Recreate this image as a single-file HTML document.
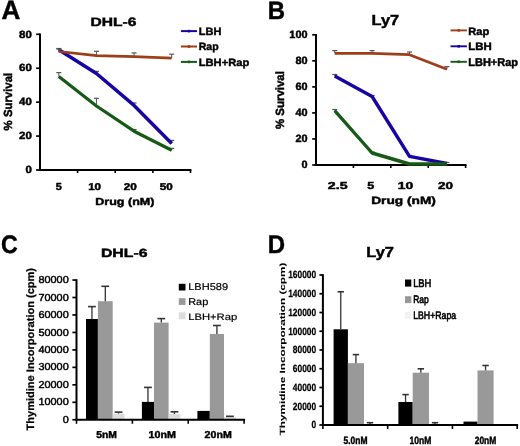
<!DOCTYPE html>
<html><head><meta charset="utf-8"><style>
html,body{margin:0;padding:0;background:#fff;}
svg{display:block;font-family:"Liberation Sans",sans-serif;text-rendering:geometricPrecision;will-change:transform;}
text{stroke:#000;stroke-width:0.45px;}
</style></head><body>
<svg width="520" height="446" viewBox="0 0 520 446" shape-rendering="geometricPrecision">
<defs><filter id="soft" x="0" y="0" width="100%" height="100%" color-interpolation-filters="sRGB"><feGaussianBlur stdDeviation="0.4"/></filter></defs>
<rect x="0" y="0" width="520" height="446" fill="#fff"/>
<g filter="url(#soft)">
<rect x="0" y="0" width="520" height="446" fill="#fff"/>
<text x="1.55" y="18.55" font-size="26.67" font-weight="bold" textLength="18.86" lengthAdjust="spacingAndGlyphs" fill="#000">A</text>
<text x="90.45" y="25.88" font-size="12.16" font-weight="bold" textLength="45.93" lengthAdjust="spacingAndGlyphs" fill="#000">DHL-6</text>
<line x1="40.00" y1="33.50" x2="40.00" y2="171.00" stroke="#000" stroke-width="2"/>
<line x1="39.00" y1="170.00" x2="191.40" y2="170.00" stroke="#000" stroke-width="2"/>
<line x1="36.10" y1="34.30" x2="40.00" y2="34.30" stroke="#000" stroke-width="1.7"/>
<text x="19.09" y="37.50" font-size="10.46" font-weight="bold" textLength="12.80" lengthAdjust="spacingAndGlyphs" fill="#000">80</text>
<line x1="36.10" y1="68.23" x2="40.00" y2="68.23" stroke="#000" stroke-width="1.7"/>
<text x="19.09" y="71.42" font-size="10.46" font-weight="bold" textLength="12.80" lengthAdjust="spacingAndGlyphs" fill="#000">60</text>
<line x1="36.10" y1="102.15" x2="40.00" y2="102.15" stroke="#000" stroke-width="1.7"/>
<text x="19.09" y="105.35" font-size="10.46" font-weight="bold" textLength="12.80" lengthAdjust="spacingAndGlyphs" fill="#000">40</text>
<line x1="36.10" y1="136.07" x2="40.00" y2="136.07" stroke="#000" stroke-width="1.7"/>
<text x="19.09" y="139.27" font-size="10.46" font-weight="bold" textLength="12.80" lengthAdjust="spacingAndGlyphs" fill="#000">20</text>
<line x1="36.10" y1="170.00" x2="40.00" y2="170.00" stroke="#000" stroke-width="1.7"/>
<text x="25.47" y="173.20" font-size="10.46" font-weight="bold" textLength="6.40" lengthAdjust="spacingAndGlyphs" fill="#000">0</text>
<line x1="77.62" y1="170.00" x2="77.62" y2="173.00" stroke="#000" stroke-width="1.6"/>
<line x1="115.25" y1="170.00" x2="115.25" y2="173.00" stroke="#000" stroke-width="1.6"/>
<line x1="152.88" y1="170.00" x2="152.88" y2="173.00" stroke="#000" stroke-width="1.6"/>
<line x1="190.50" y1="170.00" x2="190.50" y2="173.00" stroke="#000" stroke-width="1.6"/>
<text x="55.85" y="189.70" font-size="10.04" font-weight="bold" textLength="6.07" lengthAdjust="spacingAndGlyphs" fill="#000">5</text>
<text x="88.17" y="189.70" font-size="9.89" font-weight="bold" textLength="12.92" lengthAdjust="spacingAndGlyphs" fill="#000">10</text>
<text x="123.79" y="189.70" font-size="9.89" font-weight="bold" textLength="13.11" lengthAdjust="spacingAndGlyphs" fill="#000">20</text>
<text x="159.82" y="189.70" font-size="9.89" font-weight="bold" textLength="12.97" lengthAdjust="spacingAndGlyphs" fill="#000">50</text>
<text x="95.25" y="204.90" font-size="10.17" font-weight="bold" textLength="59.18" lengthAdjust="spacingAndGlyphs" fill="#000">Drug (nM)</text>
<text transform="translate(11.50,130.38) rotate(-90)" x="0" y="0" font-size="11.77" font-weight="bold" textLength="57.49" lengthAdjust="spacingAndGlyphs" fill="#000">% Survival</text>
<line x1="58.81" y1="49.80" x2="58.81" y2="48.50" stroke="#555" stroke-width="1"/>
<line x1="56.31" y1="48.50" x2="61.31" y2="48.50" stroke="#555" stroke-width="1.2"/>
<line x1="96.44" y1="73.50" x2="96.44" y2="71.40" stroke="#555" stroke-width="1"/>
<line x1="93.94" y1="71.40" x2="98.94" y2="71.40" stroke="#555" stroke-width="1.2"/>
<line x1="134.06" y1="105.40" x2="134.06" y2="103.00" stroke="#555" stroke-width="1"/>
<line x1="131.56" y1="103.00" x2="136.56" y2="103.00" stroke="#555" stroke-width="1.2"/>
<line x1="171.69" y1="143.40" x2="171.69" y2="140.40" stroke="#555" stroke-width="1"/>
<line x1="169.19" y1="140.40" x2="174.19" y2="140.40" stroke="#555" stroke-width="1.2"/>
<polyline points="58.81,49.80 96.44,73.50 134.06,105.40 171.69,143.40" fill="none" stroke="#1604a4" stroke-width="3.5" stroke-linejoin="round" stroke-linecap="butt"/>
<line x1="58.81" y1="51.50" x2="58.81" y2="49.00" stroke="#555" stroke-width="1"/>
<line x1="56.31" y1="49.00" x2="61.31" y2="49.00" stroke="#555" stroke-width="1.2"/>
<line x1="96.44" y1="55.60" x2="96.44" y2="51.30" stroke="#555" stroke-width="1"/>
<line x1="93.94" y1="51.30" x2="98.94" y2="51.30" stroke="#555" stroke-width="1.2"/>
<line x1="134.06" y1="56.60" x2="134.06" y2="52.90" stroke="#555" stroke-width="1"/>
<line x1="131.56" y1="52.90" x2="136.56" y2="52.90" stroke="#555" stroke-width="1.2"/>
<line x1="171.69" y1="58.20" x2="171.69" y2="54.20" stroke="#555" stroke-width="1"/>
<line x1="169.19" y1="54.20" x2="174.19" y2="54.20" stroke="#555" stroke-width="1.2"/>
<polyline points="58.81,51.50 96.44,55.60 134.06,56.60 171.69,58.20" fill="none" stroke="#9e3e17" stroke-width="2.7" stroke-linejoin="round" stroke-linecap="butt"/>
<line x1="58.81" y1="76.60" x2="58.81" y2="72.60" stroke="#555" stroke-width="1"/>
<line x1="56.31" y1="72.60" x2="61.31" y2="72.60" stroke="#555" stroke-width="1.2"/>
<line x1="96.44" y1="106.00" x2="96.44" y2="98.30" stroke="#555" stroke-width="1"/>
<line x1="93.94" y1="98.30" x2="98.94" y2="98.30" stroke="#555" stroke-width="1.2"/>
<line x1="134.06" y1="131.20" x2="134.06" y2="129.50" stroke="#555" stroke-width="1"/>
<line x1="131.56" y1="129.50" x2="136.56" y2="129.50" stroke="#555" stroke-width="1.2"/>
<line x1="171.69" y1="150.30" x2="171.69" y2="148.40" stroke="#555" stroke-width="1"/>
<line x1="169.19" y1="148.40" x2="174.19" y2="148.40" stroke="#555" stroke-width="1.2"/>
<polyline points="58.81,76.60 96.44,106.00 134.06,131.20 171.69,150.30" fill="none" stroke="#175a17" stroke-width="3.2" stroke-linejoin="round" stroke-linecap="butt"/>
<line x1="180.90" y1="31.10" x2="197.00" y2="31.10" stroke="#1604a4" stroke-width="2.0"/>
<rect x="187.80" y="29.80" width="2.40" height="2.60" fill="#1604a4"/>
<line x1="180.90" y1="46.50" x2="197.00" y2="46.50" stroke="#9e3e17" stroke-width="2.0"/>
<rect x="187.80" y="45.20" width="2.40" height="2.60" fill="#9e3e17"/>
<line x1="180.90" y1="61.90" x2="197.00" y2="61.90" stroke="#175a17" stroke-width="2.0"/>
<rect x="187.80" y="60.60" width="2.40" height="2.60" fill="#175a17"/>
<text x="198.76" y="34.80" font-size="10.61" font-weight="bold" textLength="22.59" lengthAdjust="spacingAndGlyphs" fill="#000">LBH</text>
<text x="198.79" y="50.20" font-size="10.47" font-weight="bold" textLength="19.85" lengthAdjust="spacingAndGlyphs" fill="#000">Rap</text>
<text x="198.75" y="65.50" font-size="10.47" font-weight="bold" textLength="50.51" lengthAdjust="spacingAndGlyphs" fill="#000">LBH+Rap</text>
<text x="267.78" y="18.70" font-size="25.00" font-weight="bold" textLength="17.29" lengthAdjust="spacingAndGlyphs" fill="#000">B</text>
<text x="371.59" y="25.40" font-size="14.53" font-weight="bold" textLength="27.62" lengthAdjust="spacingAndGlyphs" fill="#000">Ly7</text>
<line x1="316.00" y1="34.00" x2="316.00" y2="166.00" stroke="#000" stroke-width="2"/>
<line x1="315.00" y1="165.00" x2="466.50" y2="165.00" stroke="#000" stroke-width="2"/>
<line x1="312.20" y1="34.80" x2="316.00" y2="34.80" stroke="#000" stroke-width="1.7"/>
<text x="289.33" y="37.99" font-size="10.60" font-weight="bold" textLength="18.22" lengthAdjust="spacingAndGlyphs" fill="#000">100</text>
<line x1="312.20" y1="60.84" x2="316.00" y2="60.84" stroke="#000" stroke-width="1.7"/>
<text x="295.42" y="64.03" font-size="10.60" font-weight="bold" textLength="12.15" lengthAdjust="spacingAndGlyphs" fill="#000">80</text>
<line x1="312.20" y1="86.88" x2="316.00" y2="86.88" stroke="#000" stroke-width="1.7"/>
<text x="295.42" y="90.07" font-size="10.60" font-weight="bold" textLength="12.15" lengthAdjust="spacingAndGlyphs" fill="#000">60</text>
<line x1="312.20" y1="112.92" x2="316.00" y2="112.92" stroke="#000" stroke-width="1.7"/>
<text x="295.42" y="116.11" font-size="10.60" font-weight="bold" textLength="12.15" lengthAdjust="spacingAndGlyphs" fill="#000">40</text>
<line x1="312.20" y1="138.96" x2="316.00" y2="138.96" stroke="#000" stroke-width="1.7"/>
<text x="295.42" y="142.15" font-size="10.60" font-weight="bold" textLength="12.15" lengthAdjust="spacingAndGlyphs" fill="#000">20</text>
<line x1="312.20" y1="165.00" x2="316.00" y2="165.00" stroke="#000" stroke-width="1.7"/>
<text x="301.48" y="168.19" font-size="10.60" font-weight="bold" textLength="6.07" lengthAdjust="spacingAndGlyphs" fill="#000">0</text>
<line x1="353.40" y1="165.00" x2="353.40" y2="168.00" stroke="#000" stroke-width="1.6"/>
<line x1="390.80" y1="165.00" x2="390.80" y2="168.00" stroke="#000" stroke-width="1.6"/>
<line x1="428.20" y1="165.00" x2="428.20" y2="168.00" stroke="#000" stroke-width="1.6"/>
<line x1="465.60" y1="165.00" x2="465.60" y2="168.00" stroke="#000" stroke-width="1.6"/>
<text x="327.80" y="189.20" font-size="10.04" font-weight="bold" textLength="19.79" lengthAdjust="spacingAndGlyphs" fill="#000">2.5</text>
<text x="367.39" y="189.20" font-size="10.18" font-weight="bold" textLength="6.97" lengthAdjust="spacingAndGlyphs" fill="#000">5</text>
<text x="397.83" y="189.20" font-size="10.04" font-weight="bold" textLength="15.46" lengthAdjust="spacingAndGlyphs" fill="#000">10</text>
<text x="438.03" y="189.20" font-size="10.04" font-weight="bold" textLength="15.05" lengthAdjust="spacingAndGlyphs" fill="#000">20</text>
<text x="371.17" y="203.80" font-size="10.47" font-weight="bold" textLength="64.72" lengthAdjust="spacingAndGlyphs" fill="#000">Drug (nM)</text>
<text transform="translate(283.80,129.09) rotate(-90)" x="0" y="0" font-size="11.92" font-weight="bold" textLength="58.00" lengthAdjust="spacingAndGlyphs" fill="#000">% Survival</text>
<line x1="334.70" y1="76.10" x2="334.70" y2="74.50" stroke="#555" stroke-width="1"/>
<line x1="332.20" y1="74.50" x2="337.20" y2="74.50" stroke="#555" stroke-width="1.2"/>
<line x1="372.10" y1="96.50" x2="372.10" y2="95.50" stroke="#555" stroke-width="1"/>
<line x1="369.60" y1="95.50" x2="374.60" y2="95.50" stroke="#555" stroke-width="1.2"/>
<line x1="409.50" y1="156.30" x2="409.50" y2="155.50" stroke="#555" stroke-width="1"/>
<line x1="407.00" y1="155.50" x2="412.00" y2="155.50" stroke="#555" stroke-width="1.2"/>
<line x1="446.90" y1="163.50" x2="446.90" y2="162.50" stroke="#555" stroke-width="1"/>
<line x1="444.40" y1="162.50" x2="449.40" y2="162.50" stroke="#555" stroke-width="1.2"/>
<polyline points="334.70,76.10 372.10,96.50 409.50,156.30 446.90,163.50" fill="none" stroke="#1604a4" stroke-width="3.4" stroke-linejoin="round" stroke-linecap="butt"/>
<line x1="334.70" y1="53.30" x2="334.70" y2="50.60" stroke="#555" stroke-width="1"/>
<line x1="332.20" y1="50.60" x2="337.20" y2="50.60" stroke="#555" stroke-width="1.2"/>
<line x1="372.10" y1="53.30" x2="372.10" y2="50.60" stroke="#555" stroke-width="1"/>
<line x1="369.60" y1="50.60" x2="374.60" y2="50.60" stroke="#555" stroke-width="1.2"/>
<line x1="409.50" y1="54.70" x2="409.50" y2="52.00" stroke="#555" stroke-width="1"/>
<line x1="407.00" y1="52.00" x2="412.00" y2="52.00" stroke="#555" stroke-width="1.2"/>
<line x1="446.90" y1="69.30" x2="446.90" y2="66.60" stroke="#555" stroke-width="1"/>
<line x1="444.40" y1="66.60" x2="449.40" y2="66.60" stroke="#555" stroke-width="1.2"/>
<polyline points="334.70,53.30 372.10,53.30 409.50,54.70 446.90,69.30" fill="none" stroke="#9e3e17" stroke-width="2.7" stroke-linejoin="round" stroke-linecap="butt"/>
<line x1="334.70" y1="110.60" x2="334.70" y2="109.50" stroke="#555" stroke-width="1"/>
<line x1="332.20" y1="109.50" x2="337.20" y2="109.50" stroke="#555" stroke-width="1.2"/>
<line x1="372.10" y1="153.00" x2="372.10" y2="152.00" stroke="#555" stroke-width="1"/>
<line x1="369.60" y1="152.00" x2="374.60" y2="152.00" stroke="#555" stroke-width="1.2"/>
<polyline points="334.70,110.60 372.10,153.00 409.50,164.00 446.90,164.00" fill="none" stroke="#175a17" stroke-width="3.4" stroke-linejoin="round" stroke-linecap="butt"/>
<line x1="450.50" y1="30.40" x2="466.90" y2="30.40" stroke="#9e3e17" stroke-width="1.9"/>
<rect x="457.50" y="29.10" width="2.40" height="2.60" fill="#9e3e17"/>
<line x1="450.50" y1="46.30" x2="466.90" y2="46.30" stroke="#1604a4" stroke-width="1.9"/>
<rect x="457.50" y="45.00" width="2.40" height="2.60" fill="#1604a4"/>
<line x1="450.50" y1="61.80" x2="466.90" y2="61.80" stroke="#175a17" stroke-width="1.9"/>
<rect x="457.50" y="60.50" width="2.40" height="2.60" fill="#175a17"/>
<text x="468.25" y="34.70" font-size="10.61" font-weight="bold" textLength="21.01" lengthAdjust="spacingAndGlyphs" fill="#000">Rap</text>
<text x="468.23" y="50.40" font-size="10.76" font-weight="bold" textLength="23.55" lengthAdjust="spacingAndGlyphs" fill="#000">LBH</text>
<text x="468.26" y="66.20" font-size="11.34" font-weight="bold" textLength="49.79" lengthAdjust="spacingAndGlyphs" fill="#000">LBH+Rap</text>
<text x="0.97" y="253.15" font-size="25.30" font-weight="bold" textLength="16.76" lengthAdjust="spacingAndGlyphs" fill="#000">C</text>
<text x="100.93" y="257.18" font-size="11.87" font-weight="bold" textLength="46.65" lengthAdjust="spacingAndGlyphs" fill="#000">DHL-6</text>
<line x1="72.40" y1="419.75" x2="76.50" y2="419.75" stroke="#000" stroke-width="1.7"/>
<text x="62.66" y="422.85" font-size="10.18" font-weight="normal" textLength="6.06" lengthAdjust="spacingAndGlyphs" fill="#000" style="stroke-width:0.45px">0</text>
<line x1="72.40" y1="402.29" x2="76.50" y2="402.29" stroke="#000" stroke-width="1.7"/>
<text x="38.44" y="405.39" font-size="10.18" font-weight="normal" textLength="30.28" lengthAdjust="spacingAndGlyphs" fill="#000" style="stroke-width:0.45px">10000</text>
<line x1="72.40" y1="384.82" x2="76.50" y2="384.82" stroke="#000" stroke-width="1.7"/>
<text x="38.44" y="387.92" font-size="10.18" font-weight="normal" textLength="30.28" lengthAdjust="spacingAndGlyphs" fill="#000" style="stroke-width:0.45px">20000</text>
<line x1="72.40" y1="367.36" x2="76.50" y2="367.36" stroke="#000" stroke-width="1.7"/>
<text x="38.44" y="370.46" font-size="10.18" font-weight="normal" textLength="30.28" lengthAdjust="spacingAndGlyphs" fill="#000" style="stroke-width:0.45px">30000</text>
<line x1="72.40" y1="349.90" x2="76.50" y2="349.90" stroke="#000" stroke-width="1.7"/>
<text x="38.44" y="353.00" font-size="10.18" font-weight="normal" textLength="30.28" lengthAdjust="spacingAndGlyphs" fill="#000" style="stroke-width:0.45px">40000</text>
<line x1="72.40" y1="332.44" x2="76.50" y2="332.44" stroke="#000" stroke-width="1.7"/>
<text x="38.44" y="335.54" font-size="10.18" font-weight="normal" textLength="30.28" lengthAdjust="spacingAndGlyphs" fill="#000" style="stroke-width:0.45px">50000</text>
<line x1="72.40" y1="314.98" x2="76.50" y2="314.98" stroke="#000" stroke-width="1.7"/>
<text x="38.44" y="318.07" font-size="10.18" font-weight="normal" textLength="30.28" lengthAdjust="spacingAndGlyphs" fill="#000" style="stroke-width:0.45px">60000</text>
<line x1="72.40" y1="297.51" x2="76.50" y2="297.51" stroke="#000" stroke-width="1.7"/>
<text x="38.44" y="300.61" font-size="10.18" font-weight="normal" textLength="30.28" lengthAdjust="spacingAndGlyphs" fill="#000" style="stroke-width:0.45px">70000</text>
<line x1="72.40" y1="280.05" x2="76.50" y2="280.05" stroke="#000" stroke-width="1.7"/>
<text x="38.44" y="283.15" font-size="10.18" font-weight="normal" textLength="30.28" lengthAdjust="spacingAndGlyphs" fill="#000" style="stroke-width:0.45px">80000</text>
<line x1="76.50" y1="419.75" x2="76.50" y2="423.75" stroke="#000" stroke-width="1.6"/>
<line x1="132.37" y1="419.75" x2="132.37" y2="423.75" stroke="#000" stroke-width="1.6"/>
<line x1="188.23" y1="419.75" x2="188.23" y2="423.75" stroke="#000" stroke-width="1.6"/>
<line x1="244.10" y1="419.75" x2="244.10" y2="423.75" stroke="#000" stroke-width="1.6"/>
<text x="96.16" y="437.70" font-size="10.03" font-weight="bold" textLength="20.63" lengthAdjust="spacingAndGlyphs" fill="#000">5nM</text>
<text x="148.53" y="437.70" font-size="10.03" font-weight="bold" textLength="27.41" lengthAdjust="spacingAndGlyphs" fill="#000">10nM</text>
<text x="204.63" y="437.70" font-size="10.03" font-weight="bold" textLength="27.10" lengthAdjust="spacingAndGlyphs" fill="#000">20nM</text>
<text transform="translate(33.80,430.44) rotate(-90)" x="0" y="0" font-size="10.76" font-weight="bold" textLength="162.50" lengthAdjust="spacingAndGlyphs" fill="#000" style="stroke-width:0.25px">Thymidine Incorporation (cpm)</text>
<rect x="86.00" y="319.00" width="11.90" height="100.75" fill="#000"/>
<line x1="91.95" y1="319.00" x2="91.95" y2="306.60" stroke="#333" stroke-width="1.3"/>
<line x1="88.05" y1="306.60" x2="95.85" y2="306.60" stroke="#333" stroke-width="1.6"/>
<rect x="97.90" y="301.20" width="14.80" height="118.55" fill="#999"/>
<line x1="105.30" y1="301.20" x2="105.30" y2="286.30" stroke="#333" stroke-width="1.3"/>
<line x1="101.40" y1="286.30" x2="109.20" y2="286.30" stroke="#333" stroke-width="1.6"/>
<rect x="112.70" y="413.60" width="11.70" height="6.15" fill="#dcdcdc"/>
<line x1="118.55" y1="413.60" x2="118.55" y2="412.10" stroke="#333" stroke-width="1.3"/>
<line x1="114.65" y1="412.10" x2="122.45" y2="412.10" stroke="#333" stroke-width="1.6"/>
<rect x="141.90" y="401.90" width="12.10" height="17.85" fill="#000"/>
<line x1="147.95" y1="401.90" x2="147.95" y2="387.40" stroke="#333" stroke-width="1.3"/>
<line x1="144.05" y1="387.40" x2="151.85" y2="387.40" stroke="#333" stroke-width="1.6"/>
<rect x="154.00" y="322.60" width="14.60" height="97.15" fill="#999"/>
<line x1="161.30" y1="322.60" x2="161.30" y2="318.60" stroke="#333" stroke-width="1.3"/>
<line x1="157.40" y1="318.60" x2="165.20" y2="318.60" stroke="#333" stroke-width="1.6"/>
<rect x="168.60" y="414.00" width="11.70" height="5.75" fill="#dcdcdc"/>
<line x1="174.45" y1="414.00" x2="174.45" y2="411.80" stroke="#333" stroke-width="1.3"/>
<line x1="170.55" y1="411.80" x2="178.35" y2="411.80" stroke="#333" stroke-width="1.6"/>
<rect x="197.40" y="410.90" width="12.40" height="8.85" fill="#000"/>
<rect x="209.80" y="334.00" width="14.20" height="85.75" fill="#999"/>
<line x1="216.90" y1="334.00" x2="216.90" y2="325.50" stroke="#333" stroke-width="1.3"/>
<line x1="213.00" y1="325.50" x2="220.80" y2="325.50" stroke="#333" stroke-width="1.6"/>
<rect x="224.00" y="417.00" width="11.80" height="2.75" fill="#dcdcdc"/>
<line x1="229.90" y1="417.00" x2="229.90" y2="416.30" stroke="#333" stroke-width="1.3"/>
<line x1="226.00" y1="416.30" x2="233.80" y2="416.30" stroke="#333" stroke-width="1.6"/>
<line x1="76.50" y1="279.25" x2="76.50" y2="420.75" stroke="#000" stroke-width="2"/>
<line x1="75.50" y1="419.75" x2="245.00" y2="419.75" stroke="#000" stroke-width="2"/>
<rect x="178.80" y="283.80" width="6.70" height="6.70" fill="#000"/>
<text x="188.19" y="290.40" font-size="9.88" font-weight="normal" textLength="39.92" lengthAdjust="spacingAndGlyphs" fill="#000" style="stroke-width:0.2px">LBH589</text>
<rect x="178.80" y="298.20" width="6.70" height="6.70" fill="#999"/>
<text x="188.20" y="305.00" font-size="9.88" font-weight="normal" textLength="20.06" lengthAdjust="spacingAndGlyphs" fill="#000" style="stroke-width:0.2px">Rap</text>
<rect x="178.80" y="312.30" width="6.70" height="7.00" fill="#dcdcdc"/>
<text x="188.17" y="319.50" font-size="9.45" font-weight="normal" textLength="48.99" lengthAdjust="spacingAndGlyphs" fill="#000" style="stroke-width:0.2px">LBH+Rap</text>
<text x="267.68" y="253.20" font-size="25.44" font-weight="bold" textLength="17.33" lengthAdjust="spacingAndGlyphs" fill="#000">D</text>
<text x="366.29" y="256.50" font-size="14.53" font-weight="bold" textLength="27.73" lengthAdjust="spacingAndGlyphs" fill="#000">Ly7</text>
<line x1="319.40" y1="425.00" x2="322.90" y2="425.00" stroke="#000" stroke-width="1.7"/>
<text x="311.49" y="428.40" font-size="10.46" font-weight="bold" textLength="4.65" lengthAdjust="spacingAndGlyphs" fill="#000" style="stroke-width:0.25px">0</text>
<line x1="319.40" y1="406.25" x2="322.90" y2="406.25" stroke="#000" stroke-width="1.7"/>
<text x="292.87" y="409.65" font-size="10.46" font-weight="bold" textLength="23.27" lengthAdjust="spacingAndGlyphs" fill="#000" style="stroke-width:0.25px">20000</text>
<line x1="319.40" y1="387.50" x2="322.90" y2="387.50" stroke="#000" stroke-width="1.7"/>
<text x="292.87" y="390.90" font-size="10.46" font-weight="bold" textLength="23.27" lengthAdjust="spacingAndGlyphs" fill="#000" style="stroke-width:0.25px">40000</text>
<line x1="319.40" y1="368.75" x2="322.90" y2="368.75" stroke="#000" stroke-width="1.7"/>
<text x="292.87" y="372.15" font-size="10.46" font-weight="bold" textLength="23.27" lengthAdjust="spacingAndGlyphs" fill="#000" style="stroke-width:0.25px">60000</text>
<line x1="319.40" y1="350.00" x2="322.90" y2="350.00" stroke="#000" stroke-width="1.7"/>
<text x="292.87" y="353.40" font-size="10.46" font-weight="bold" textLength="23.27" lengthAdjust="spacingAndGlyphs" fill="#000" style="stroke-width:0.25px">80000</text>
<line x1="319.40" y1="331.25" x2="322.90" y2="331.25" stroke="#000" stroke-width="1.7"/>
<text x="288.23" y="334.65" font-size="10.46" font-weight="bold" textLength="27.92" lengthAdjust="spacingAndGlyphs" fill="#000" style="stroke-width:0.25px">100000</text>
<line x1="319.40" y1="312.50" x2="322.90" y2="312.50" stroke="#000" stroke-width="1.7"/>
<text x="288.23" y="315.90" font-size="10.46" font-weight="bold" textLength="27.92" lengthAdjust="spacingAndGlyphs" fill="#000" style="stroke-width:0.25px">120000</text>
<line x1="319.40" y1="293.75" x2="322.90" y2="293.75" stroke="#000" stroke-width="1.7"/>
<text x="288.23" y="297.15" font-size="10.46" font-weight="bold" textLength="27.92" lengthAdjust="spacingAndGlyphs" fill="#000" style="stroke-width:0.25px">140000</text>
<line x1="319.40" y1="275.00" x2="322.90" y2="275.00" stroke="#000" stroke-width="1.7"/>
<text x="288.23" y="278.40" font-size="10.46" font-weight="bold" textLength="27.92" lengthAdjust="spacingAndGlyphs" fill="#000" style="stroke-width:0.25px">160000</text>
<line x1="322.90" y1="425.00" x2="322.90" y2="429.00" stroke="#000" stroke-width="1.6"/>
<line x1="387.67" y1="425.00" x2="387.67" y2="429.00" stroke="#000" stroke-width="1.6"/>
<line x1="452.43" y1="425.00" x2="452.43" y2="429.00" stroke="#000" stroke-width="1.6"/>
<line x1="517.20" y1="425.00" x2="517.20" y2="429.00" stroke="#000" stroke-width="1.6"/>
<text x="343.53" y="444.39" font-size="10.60" font-weight="bold" textLength="23.96" lengthAdjust="spacingAndGlyphs" fill="#000">5.0nM</text>
<text x="409.57" y="444.39" font-size="10.60" font-weight="bold" textLength="21.82" lengthAdjust="spacingAndGlyphs" fill="#000">10nM</text>
<text x="474.70" y="444.39" font-size="10.60" font-weight="bold" textLength="21.58" lengthAdjust="spacingAndGlyphs" fill="#000">20nM</text>
<text transform="translate(284.80,435.35) rotate(-90)" x="0" y="0" font-size="7.56" font-weight="bold" textLength="172.74" lengthAdjust="spacingAndGlyphs" fill="#000" style="stroke-width:0.05px">Thymidine Incorporation (cpm)</text>
<rect x="333.60" y="329.30" width="14.30" height="95.70" fill="#000"/>
<line x1="340.75" y1="329.30" x2="340.75" y2="291.80" stroke="#333" stroke-width="1.3"/>
<line x1="337.55" y1="291.80" x2="343.95" y2="291.80" stroke="#333" stroke-width="1.6"/>
<rect x="347.90" y="363.20" width="16.10" height="61.80" fill="#999"/>
<line x1="355.95" y1="363.20" x2="355.95" y2="354.60" stroke="#333" stroke-width="1.3"/>
<line x1="352.75" y1="354.60" x2="359.15" y2="354.60" stroke="#333" stroke-width="1.6"/>
<rect x="364.00" y="424.00" width="12.00" height="1.00" fill="#f4f4f4"/>
<line x1="370.00" y1="424.00" x2="370.00" y2="422.70" stroke="#333" stroke-width="1.3"/>
<line x1="366.80" y1="422.70" x2="373.20" y2="422.70" stroke="#333" stroke-width="1.6"/>
<rect x="398.40" y="402.00" width="14.30" height="23.00" fill="#000"/>
<line x1="405.55" y1="402.00" x2="405.55" y2="394.60" stroke="#333" stroke-width="1.3"/>
<line x1="402.35" y1="394.60" x2="408.75" y2="394.60" stroke="#333" stroke-width="1.6"/>
<rect x="412.70" y="372.70" width="16.30" height="52.30" fill="#999"/>
<line x1="420.85" y1="372.70" x2="420.85" y2="368.80" stroke="#333" stroke-width="1.3"/>
<line x1="417.65" y1="368.80" x2="424.05" y2="368.80" stroke="#333" stroke-width="1.6"/>
<rect x="429.00" y="424.00" width="12.00" height="1.00" fill="#f4f4f4"/>
<line x1="435.00" y1="424.00" x2="435.00" y2="422.70" stroke="#333" stroke-width="1.3"/>
<line x1="431.80" y1="422.70" x2="438.20" y2="422.70" stroke="#333" stroke-width="1.6"/>
<rect x="463.50" y="421.60" width="14.00" height="3.40" fill="#000"/>
<rect x="477.50" y="370.40" width="16.10" height="54.60" fill="#999"/>
<line x1="485.55" y1="370.40" x2="485.55" y2="365.50" stroke="#333" stroke-width="1.3"/>
<line x1="482.35" y1="365.50" x2="488.75" y2="365.50" stroke="#333" stroke-width="1.6"/>
<rect x="493.60" y="424.50" width="12.00" height="0.50" fill="#f4f4f4"/>
<line x1="322.90" y1="274.20" x2="322.90" y2="426.00" stroke="#000" stroke-width="2"/>
<line x1="321.90" y1="425.00" x2="518.10" y2="425.00" stroke="#000" stroke-width="2"/>
<rect x="405.00" y="279.50" width="6.30" height="7.10" fill="#000"/>
<text x="413.13" y="286.60" font-size="11.19" font-weight="normal" textLength="18.25" lengthAdjust="spacingAndGlyphs" fill="#000" style="stroke-width:0.6px">LBH</text>
<rect x="405.00" y="296.20" width="6.30" height="6.90" fill="#999"/>
<text x="413.20" y="302.60" font-size="10.76" font-weight="normal" textLength="15.56" lengthAdjust="spacingAndGlyphs" fill="#000" style="stroke-width:0.6px">Rap</text>
<rect x="405.00" y="311.90" width="6.30" height="7.00" fill="#f3f3f3"/>
<text x="413.18" y="319.00" font-size="10.90" font-weight="normal" textLength="43.02" lengthAdjust="spacingAndGlyphs" fill="#000" style="stroke-width:0.6px">LBH+Rapa</text>
</g>
</svg>
</body></html>
